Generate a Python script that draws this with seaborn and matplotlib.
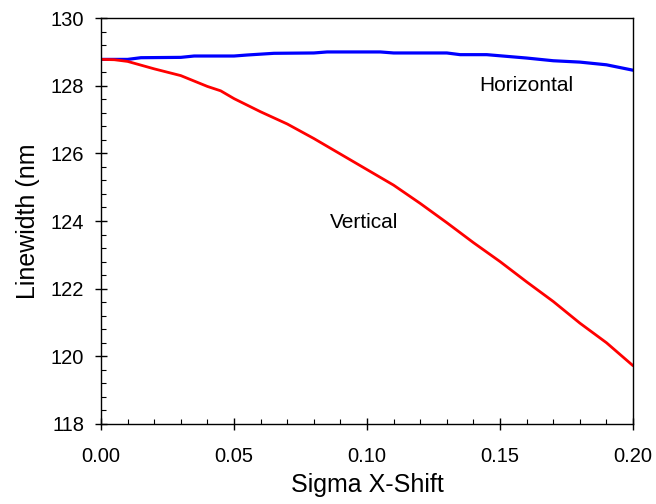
import matplotlib.pyplot as plt
import seaborn as sns
from matplotlib.ticker import MultipleLocator

# values
x_horiz = [0.0, 0.01, 0.015, 0.03, 0.035, 0.05, 0.055, 0.065, 0.08, 0.085,
           0.105, 0.11, 0.13, 0.135, 0.145, 0.16, 0.17, 0.18, 0.19, 0.20]
y_horiz = [128.78, 128.78, 128.83, 128.84, 128.88, 128.88, 128.91, 128.96, 128.97, 129.0,
           129.0, 128.97, 128.97, 128.92, 128.92, 128.82, 128.74, 128.70, 128.62, 128.46]

x_vert = [0.0, 0.005, 0.01, 0.02, 0.03, 0.04, 0.045, 0.05, 0.06, 0.07, 0.08, 0.09,
          0.10, 0.11, 0.12, 0.13, 0.14, 0.15, 0.16, 0.17, 0.18, 0.19, 0.20]
y_vert = [128.78, 128.77, 128.72, 128.50, 128.30, 127.98, 127.85, 127.62, 127.23, 126.87,
          126.44, 125.98, 125.52, 125.06, 124.52, 123.95, 123.36, 122.80, 122.20, 121.62,
          120.98, 120.40, 119.72]

sns.set_style("ticks")
plt.rcParams['font.family'] = ['Liberation Sans', 'DejaVu Sans']
plt.rcParams['text.color'] = 'black'
plt.rcParams['axes.labelcolor'] = 'black'
narrow = ['Liberation Sans Narrow', 'Liberation Sans', 'DejaVu Sans']

fig = plt.figure(figsize=(6.56, 5.04), dpi=100)
ax = fig.add_axes([0.154, 0.159, 0.811, 0.805])

sns.lineplot(x=x_horiz, y=y_horiz, color='#0000ff', linewidth=2.3, ax=ax)
sns.lineplot(x=x_vert, y=y_vert, color='#ff0000', linewidth=2.0, ax=ax)

ax.set_xlim(0, 0.2)
ax.set_ylim(118, 130)
ax.xaxis.set_major_locator(MultipleLocator(0.05))
ax.xaxis.set_minor_locator(MultipleLocator(0.01))
ax.yaxis.set_major_locator(MultipleLocator(2))
ax.yaxis.set_minor_locator(MultipleLocator(0.4))
ax.xaxis.set_major_formatter(lambda v, p: f"{v:.2f}")

ax.tick_params(which='major', direction='inout', length=9, width=1,
               top=False, right=False, colors='black')
ax.tick_params(axis='x', which='major', pad=12)
ax.tick_params(axis='y', which='major', pad=7.5)
ax.tick_params(which='minor', direction='in', length=3.6, width=0.8,
               top=False, right=False, colors='black')
for lab in ax.get_xticklabels() + ax.get_yticklabels():
    lab.set_fontfamily(narrow)
    lab.set_fontsize(14.5)
for s in ax.spines.values():
    s.set_visible(True)
    s.set_color('black')
    s.set_linewidth(1)

ax.set_xlabel('Sigma X-Shift', fontsize=18, family=narrow, labelpad=5, color='black')
ax.set_ylabel('Linewidth (nm', fontsize=18, labelpad=8, color='black')

ax.text(0.160, 128.0, 'Horizontal', fontsize=15, ha='center', va='center', color='black')
ax.text(0.0989, 123.97, 'Vertical', fontsize=15, ha='center', va='center', color='black')

fig.savefig('out.png', dpi=100)
